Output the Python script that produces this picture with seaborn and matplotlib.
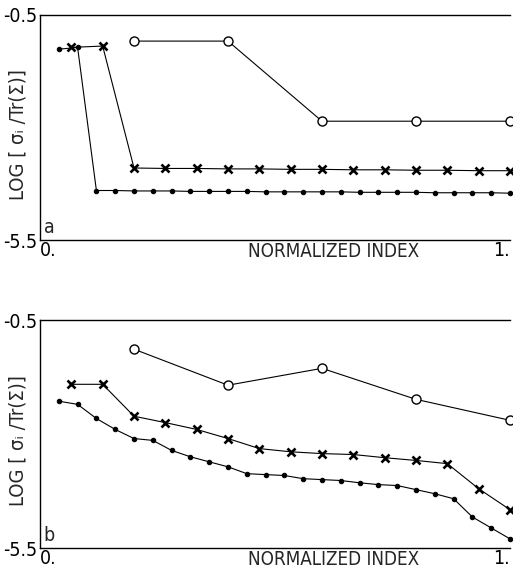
import numpy as np
import pandas as pd
import matplotlib
matplotlib.use("Agg")
import matplotlib.pyplot as plt
import seaborn as sns

# ---- data ----
n_dots, n_stars, n_circ = 25, 15, 5
x_dots = [k / n_dots for k in range(1, n_dots + 1)]
x_stars = [k / n_stars for k in range(1, n_stars + 1)]
x_circ = [k / n_circ for k in range(1, n_circ + 1)]

a_dots = [-1.26, -1.22, -4.40, -4.40, -4.41, -4.41, -4.41, -4.42, -4.42, -4.42,
          -4.42, -4.43, -4.43, -4.43, -4.43, -4.43, -4.44, -4.44, -4.44, -4.44,
          -4.45, -4.45, -4.45, -4.45, -4.46]
a_stars = [-1.22, -1.19, -3.90, -3.91, -3.91, -3.92, -3.92, -3.93, -3.93, -3.94,
           -3.94, -3.95, -3.95, -3.96, -3.96]
a_circ = [-1.08, -1.08, -2.86, -2.86, -2.86]

b_dots = [-2.28, -2.35, -2.66, -2.90, -3.10, -3.14, -3.36, -3.50, -3.61, -3.72,
          -3.87, -3.89, -3.91, -3.98, -4.00, -4.02, -4.07, -4.11, -4.13, -4.22,
          -4.31, -4.42, -4.82, -5.06, -5.30]
b_stars = [-1.91, -1.91, -2.61, -2.75, -2.90, -3.10, -3.32, -3.39, -3.43, -3.45,
           -3.52, -3.58, -3.65, -4.20, -4.66]
b_circ = [-1.14, -1.93, -1.56, -2.24, -2.70]

y_ticks = [-0.5, -5.5]
y_ticklabels = ["-0.5", "-5.5"]
x_ticks = [0, 1]
x_ticklabels = ["0.", "1."]
panel_labels = ["a", "b"]

sns.set_style("white")
plt.rcParams["font.family"] = ["DejaVu Sans"]
plt.rcParams["font.stretch"] = "condensed"

fig = plt.figure(figsize=(5.13, 5.78), dpi=100)
ax_a = fig.add_axes([40 / 513, 338 / 578, 470 / 513, 225 / 578])
ax_b = fig.add_axes([40 / 513, 30 / 578, 470 / 513, 228 / 578])

series = {
    "a": [(x_dots, a_dots, "dots"), (x_stars, a_stars, "stars"), (x_circ, a_circ, "circ")],
    "b": [(x_dots, b_dots, "dots"), (x_stars, b_stars, "stars"), (x_circ, b_circ, "circ")],
}
mstyle = {
    "dots": dict(marker="o", markersize=3.2, markerfacecolor="black", markeredgecolor="black"),
    "stars": dict(marker="x", markersize=5.5, markeredgewidth=1.9, markeredgecolor="black"),
    "circ": dict(marker="o", markersize=6.5, markerfacecolor="white", markeredgecolor="black",
                 markeredgewidth=1.0),
}

for ax, key, lab in [(ax_a, "a", "a"), (ax_b, "b", "b")]:
    for xs, ys, kind in series[key]:
        df = pd.DataFrame({"x": xs, "y": ys})
        sns.lineplot(data=df, x="x", y="y", ax=ax, color="black", linewidth=0.8,
                     sort=False, estimator=None, clip_on=False, zorder=3, **mstyle[kind])
    ax.set_xlim(0, 1)
    ax.set_ylim(-5.5, -0.5)
    ax.set_yticks(y_ticks)
    ax.set_yticklabels(y_ticklabels, fontsize=14)
    ax.set_xticks(x_ticks)
    ax.set_xticklabels(x_ticklabels, fontsize=14)
    xl = ax.get_xticklabels()
    xl[0].set_horizontalalignment("left")
    xl[1].set_horizontalalignment("right")
    ax.tick_params(axis="both", length=0, pad=2, colors="black")
    ax.tick_params(axis="x", pad=1)
    ax.set_xlabel("")
    ax.set_ylabel("")
    ax.text(0.624, -0.052, "NORMALIZED INDEX", transform=ax.transAxes, ha="center",
            va="center", fontsize=13.5)
    ax.text(-0.047, 0.47, "LOG [ σᵢ /Tr(Σ)]", transform=ax.transAxes, rotation=90,
            ha="center", va="center", fontsize=14.5)
    ax.text(0.008, 0.012, lab, transform=ax.transAxes, ha="left", va="bottom", fontsize=14)
    for s in ["left", "top", "bottom"]:
        ax.spines[s].set_visible(True)
        ax.spines[s].set_color("black")
        ax.spines[s].set_linewidth(1.0)
    ax.spines["right"].set_visible(False)
    ax.grid(False)

fig.savefig("out.png", dpi=100)
